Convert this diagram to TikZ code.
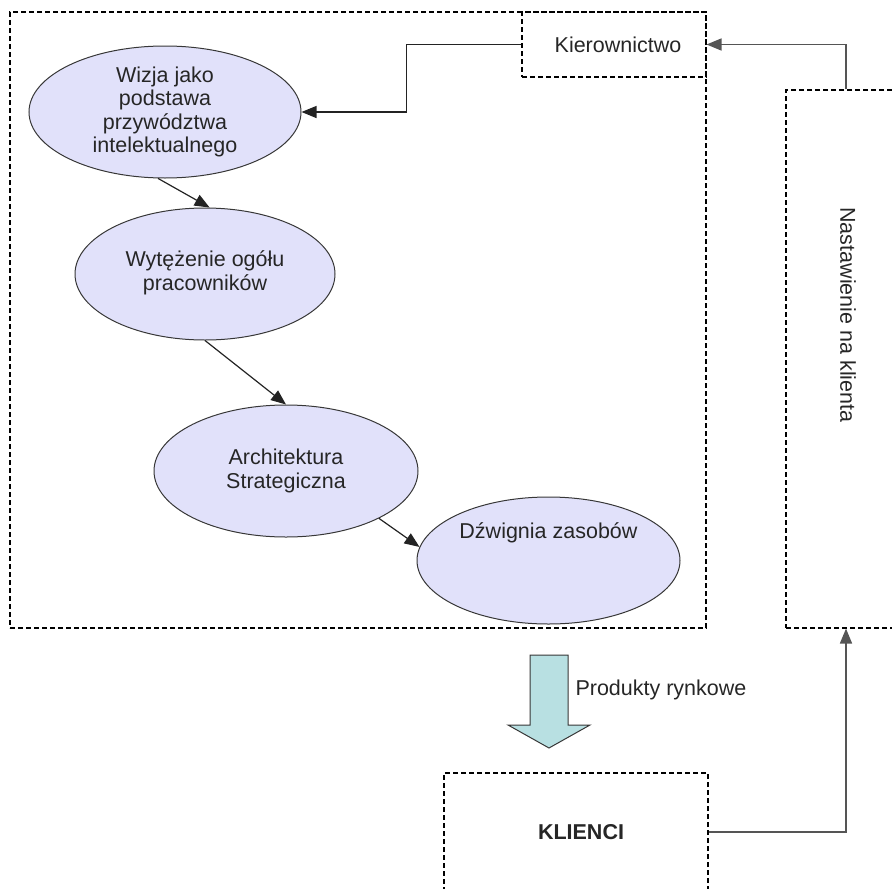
\documentclass[tikz,border=0pt]{standalone}
\usepackage{fontspec}
\setmainfont{Liberation Sans}
\usetikzlibrary{shapes.geometric,arrows.meta}
\definecolor{ovalfill}{RGB}{225,225,250}
\definecolor{ovaledge}{RGB}{55,55,55}
\definecolor{arrowfill}{RGB}{184,224,226}
\definecolor{lineclr}{RGB}{35,35,35}
\definecolor{feedclr}{RGB}{85,85,85}
\begin{document}
\begin{tikzpicture}[x=1pt,y=-1pt,
  every node/.style={font=\fontsize{21.5}{23.5}\selectfont, text=black!85},
  frame/.style={draw=black, dash pattern=on 5pt off 3pt, line width=1.1pt,
                rectangle, inner sep=0pt},
  oval/.style={ellipse, draw=ovaledge, fill=ovalfill, line width=1pt,
               inner sep=0pt, align=center},
  conn/.style={draw=lineclr, line width=1.2pt, -{Triangle[length=15pt,width=12pt]}},
  feed/.style={conn, draw=feedclr, line width=1.6pt},
]
\useasboundingbox (0,0) rectangle (892,889);
\clip (0,0) rectangle (892,889);

% frames
\node[frame, minimum width=696pt, minimum height=616pt] (main) at (358,320) {};
\node[frame, minimum width=184pt, minimum height=65pt] (kier) at (614,44.5) {\hspace{8pt}Kierownictwo};
\node[frame, minimum width=120pt, minimum height=538pt] (nast) at (846,359) {};
\node[rotate=-90] (nastlabel) at (848,315) {Nastawienie na klienta};
\node[frame, minimum width=264pt, minimum height=118pt, font=\fontsize{21.5}{23.5}\selectfont\bfseries] (klienci) at (576,832) {\hspace{10pt}KLIENCI};

% ovals
\node[oval, minimum width=272pt, minimum height=132pt] (wizja) at (165,112)
  {Wizja jako\\podstawa\\przywództwa\\intelektualnego};
\node[oval, minimum width=260pt, minimum height=132pt] (wyt) at (205,274)
  {\raisebox{6pt}{\begin{tabular}{@{}c@{}}Wytężenie ogółu\\pracowników\end{tabular}}};
\node[oval, minimum width=264pt, minimum height=132pt] (arch) at (286,471)
  {Architektura\\Strategiczna};
\node[oval, minimum width=263pt, minimum height=127pt,
      label={[yshift=28pt]center:Dźwignia zasobów}] (dzw) at (548.5,560.5) {};

% connectors
\draw[conn] (kier.west) -- ++(-115,0) |- (wizja.east);
\draw[feed] (nast.north) |- (kier.east);
\draw[feed] (klienci.east) -| (nast.south);
\draw[conn] (wizja.264) -- (wyt.86);
\draw[conn] (wyt.south) -- (arch.north);
\draw[conn] (arch.-27.5) -- (dzw.174);

% block arrow towards the customers
\draw[draw=ovaledge, fill=arrowfill, line width=1pt]
  (530,655) -- (568,655) -- (568,725) -- (590,725) -- (549,748)
  -- (508,725) -- (530,725) -- cycle;
\node[anchor=west] (prod) at (572,690) {Produkty rynkowe};
\end{tikzpicture}
\end{document}
